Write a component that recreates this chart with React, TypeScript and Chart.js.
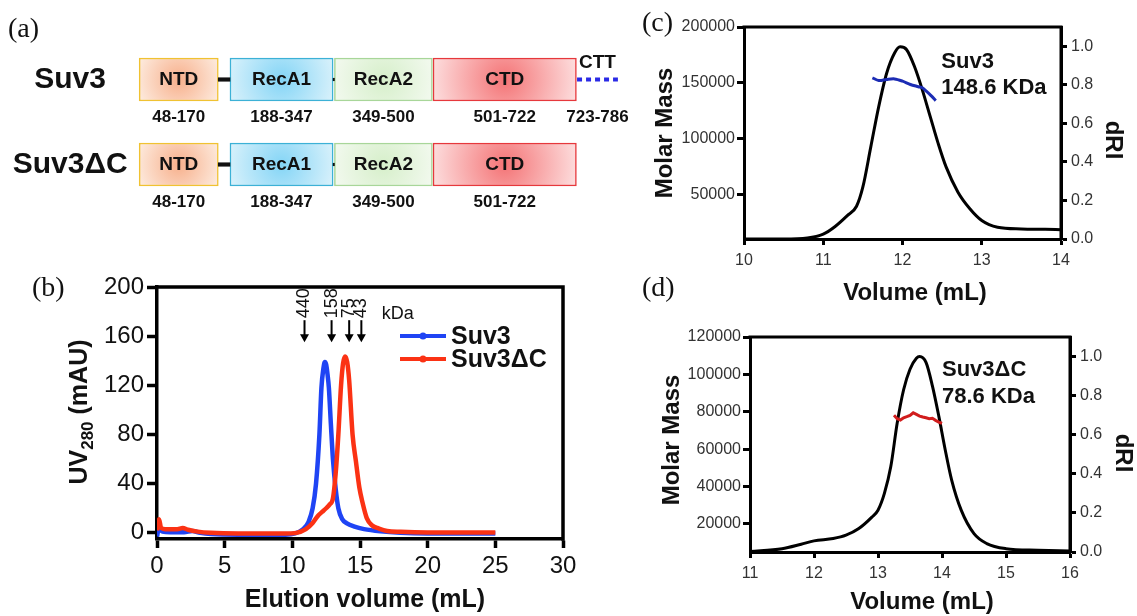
import React, { useEffect, useRef } from 'react';
import { Chart, registerables } from 'chart.js';

Chart.register(...registerables);

const SANS = "'Liberation Sans', Arial, Helvetica, sans-serif";
const SERIF = "'Liberation Serif', 'Times New Roman', serif";
Chart.defaults.font.family = SANS;

// ---------------- (a) domain architecture ----------------
const constructs = ['Suv3', 'Suv3ΔC'];
const domainNames = ['NTD', 'RecA1', 'RecA2', 'CTD'];
const domainStarts = [48, 188, 349, 501];
const domainEnds = [170, 347, 500, 722];
const cttName = 'CTT';
const cttRange = [723, 786];

// ---------------- (b) size-exclusion chromatography ----------------
const suv3Volume = [0, 0.15, 0.4, 1, 2, 2.6, 3.2, 4, 6, 8, 9.5, 10.2, 10.8, 11.2, 11.5, 11.75, 12.0, 12.15, 12.3, 12.4, 12.5, 12.6, 12.7, 12.85, 13.0, 13.2, 13.4, 13.7, 14.0, 14.6, 15.3, 16.5, 18, 20, 25];
const suv3Uv = [-3, 4, 1, 0.5, 0.5, 1.5, 0, -1, -1.5, -1.5, -1.5, -0.5, 3, 9, 20, 40, 80, 118, 134, 139, 137, 129, 118, 88, 60, 36, 20, 11, 8, 5, 3, 1.2, 0, -0.5, -0.5];
const suv3dcVolume = [0, 0.15, 0.3, 0.6, 1.0, 1.5, 1.9, 2.3, 3, 4, 6, 8, 9.5, 10.3, 11, 11.5, 11.9, 12.2, 12.5, 12.75, 13.0, 13.2, 13.4, 13.6, 13.75, 13.9, 14.05, 14.2, 14.45, 14.7, 14.95, 15.2, 15.5, 15.9, 16.4, 17, 18, 20, 25];
const suv3dcUv = [2, 11, 4, 3, 3, 3, 4, 2.5, 1, 0, -0.5, -0.5, -0.5, 0, 3, 8, 14, 17, 20, 23, 28, 48, 80, 120, 138, 143.5, 139, 124, 80, 58, 37, 24, 12, 6, 3.5, 1.5, 0.8, 0.3, 0.3];
const markerVolume = [10.9, 12.9, 14.2, 15.1];
const markerMass = ['440', '158', '75', '43'];
const markerUnit = 'kDa';
const bXTicks = [0, 5, 10, 15, 20, 25, 30];
const bYTicks = [0, 40, 80, 120, 160, 200];

// ---------------- (c) SEC-MALS Suv3 ----------------
const cVolume = [10, 10.5, 10.8, 11.0, 11.15, 11.3, 11.42, 11.5, 11.6, 11.7, 11.8, 11.9, 11.97, 12.05, 12.15, 12.25, 12.35, 12.45, 12.55, 12.7, 12.85, 13.0, 13.2, 13.5, 13.8, 14];
const cDri = [0, 0, 0.005, 0.025, 0.065, 0.12, 0.17, 0.27, 0.478, 0.687, 0.86, 0.965, 0.997, 0.983, 0.896, 0.774, 0.635, 0.496, 0.374, 0.243, 0.157, 0.096, 0.061, 0.052, 0.05, 0.048];
const cMassVolume = [11.62, 11.7, 11.8, 11.9, 12.0, 12.1, 12.2, 12.25, 12.3, 12.36, 12.42];
const cMass = [154500, 152000, 153000, 153500, 151500, 148500, 146500, 145500, 142500, 138500, 134000];
const cXTicks = [10, 11, 12, 13, 14];
const cMassTicks = [50000, 100000, 150000, 200000];
const cLabel = ['Suv3', '148.6 KDa'];

// ---------------- (d) SEC-MALS Suv3ΔC ----------------
const dVolume = [11, 11.5, 11.8, 12.0, 12.3, 12.5, 12.7, 12.9, 13.0, 13.1, 13.2, 13.3, 13.4, 13.5, 13.6, 13.65, 13.75, 13.85, 13.95, 14.05, 14.15, 14.3, 14.5, 14.7, 15.0, 15.5, 16];
const dDri = [0.002, 0.017, 0.04, 0.057, 0.069, 0.086, 0.12, 0.177, 0.214, 0.3, 0.437, 0.66, 0.83, 0.935, 0.991, 1.0, 0.97, 0.85, 0.695, 0.523, 0.369, 0.214, 0.094, 0.043, 0.017, 0.009, 0.005];
const dMassVolume = [13.25, 13.3, 13.35, 13.4, 13.45, 13.5, 13.55, 13.6, 13.65, 13.7, 13.75, 13.8, 13.85, 13.9, 13.95, 14.0];
const dMass = [78100, 76300, 75600, 76800, 77400, 78100, 79500, 78600, 77700, 77200, 76800, 76300, 76500, 75400, 74500, 73800];
const dXTicks = [11, 12, 13, 14, 15, 16];
const dMassTicks = [20000, 40000, 60000, 80000, 100000, 120000];
const dLabel = ['Suv3ΔC', '78.6 KDa'];

const driTicks = [0, 0.2, 0.4, 0.6, 0.8, 1.0];

// ---------------- styles ----------------
const domainBorder = ['#f0c232', '#3cb1d6', '#a8d699', '#e6383c'];
const domainInner = ['#f7b08c', '#84d5f6', '#d6efca', '#f47476'];
const domainOuter = ['#fde8da', '#d8f1fb', '#f2f9ee', '#fde0e0'];
const BLUE = '#1f44f4';
const RED = '#fb3214';

const pts = (xs: number[], ys: number[]) => xs.map((x, i) => ({ x, y: ys[i] }));
const setTicks = (vals: number[]) => (s: any) => { s.ticks = vals.map((v) => ({ value: v })); };
const fixWidth = (w: number) => (s: any) => { s.width = w; s.paddingTop = 0; s.paddingBottom = 0; };
const fixHeight = (h: number) => (s: any) => { s.height = h; s.paddingLeft = 0; s.paddingRight = 0; };

function txt(ctx: CanvasRenderingContext2D, s: string, x: number, y: number, font: string, o: { align?: CanvasTextAlign; baseline?: CanvasTextBaseline; color?: string; rot?: number } = {}) {
  ctx.save();
  ctx.translate(x, y);
  if (o.rot) ctx.rotate(o.rot);
  ctx.font = font;
  ctx.fillStyle = o.color ?? '#000';
  ctx.textAlign = o.align ?? 'center';
  ctx.textBaseline = o.baseline ?? 'middle';
  ctx.fillText(s, 0, 0);
  ctx.restore();
}

const framePlugin = (w: number) => ({
  id: 'frame',
  afterDatasetsDraw(chart: any) {
    const { ctx, chartArea: a } = chart;
    ctx.save();
    ctx.strokeStyle = '#000';
    ctx.lineWidth = w;
    ctx.lineCap = 'square';
    ctx.beginPath();
    ctx.moveTo(a.left, a.top);
    ctx.lineTo(a.right, a.top);
    ctx.lineTo(a.right, a.bottom);
    ctx.stroke();
    ctx.restore();
  },
});

function axis(tickLength: number, width: number) {
  return {
    grid: { drawOnChartArea: false, drawTicks: true, tickLength, tickWidth: width, tickColor: '#000' },
    border: { display: true, color: '#000', width },
  };
}

// ---------------- chart builders ----------------
function makeA(canvas: HTMLCanvasElement) {
  const gradient = (ctx: any, i: number) => {
    const chart = ctx.chart;
    const xs = chart.scales?.x;
    const ys = chart.scales?.y;
    if (ctx.type !== 'data' || !chart.chartArea || !xs || !ys) return domainInner[i];
    const raw = ctx.raw as number[];
    const l = xs.getPixelForValue(raw[0]);
    const r = xs.getPixelForValue(raw[1]);
    const cy = ys.getPixelForValue(ctx.dataIndex);
    const cx = (l + r) / 2;
    const g = chart.ctx.createRadialGradient(cx, cy, 0, cx, cy, (r - l) / 2 * 1.05);
    g.addColorStop(0, domainInner[i]);
    g.addColorStop(1, domainOuter[i]);
    return g;
  };
  const datasets: any[] = [
    {
      label: 'linker1',
      data: constructs.map(() => [domainEnds[0], domainStarts[1]]),
      backgroundColor: '#111',
      barThickness: 3.5,
      grouped: false,
      borderWidth: 0,
    },
    {
      label: 'linker2',
      data: constructs.map(() => [domainEnds[1], domainStarts[2]]),
      backgroundColor: '#111',
      barThickness: 2.5,
      grouped: false,
      borderWidth: 0,
    },
    ...domainNames.map((name, i) => ({
      label: name,
      data: constructs.map(() => [domainStarts[i], domainEnds[i]]),
      backgroundColor: (ctx: any) => gradient(ctx, i),
      borderColor: domainBorder[i],
      borderWidth: 1.5,
      borderSkipped: false,
      barThickness: 43,
      grouped: false,
    })),
    {
      type: 'line',
      label: cttName,
      data: [{ x: cttRange[0], y: constructs[0] }, { x: cttRange[1], y: constructs[0] }],
      borderColor: '#2a2ae6',
      borderWidth: 4,
      borderDash: [5, 4],
      pointRadius: 0,
    },
  ];
  const labels = {
    id: 'domainLabels',
    afterDatasetsDraw(chart: any) {
      const { ctx } = chart;
      const xs = chart.scales.x;
      const ys = chart.scales.y;
      constructs.forEach((name, row) => {
        const cy = ys.getPixelForValue(row);
        txt(ctx, name, xs.getPixelForValue(domainStarts[0]) - 69, cy, `bold 30px ${SANS}`, { align: 'center', color: '#111' });
        domainNames.forEach((d, i) => {
          const cx = xs.getPixelForValue((domainStarts[i] + domainEnds[i]) / 2);
          txt(ctx, d, cx, cy, `bold 19px ${SANS}`, { color: '#111' });
          txt(ctx, `${domainStarts[i]}-${domainEnds[i]}`, cx, cy + 38, `bold 17px ${SANS}`, { color: '#111' });
        });
      });
      const cy0 = ys.getPixelForValue(0);
      const cxc = xs.getPixelForValue((cttRange[0] + cttRange[1]) / 2);
      txt(ctx, cttName, cxc, cy0 - 17, `bold 19px ${SANS}`, { color: '#111' });
      txt(ctx, `${cttRange[0]}-${cttRange[1]}`, cxc, cy0 + 38, `bold 17px ${SANS}`, { color: '#111' });
    },
  };
  return new Chart(canvas, {
    type: 'bar',
    data: { labels: constructs, datasets },
    options: {
      indexAxis: 'y',
      animation: false,
      responsive: false,
      devicePixelRatio: 1,
      layout: { padding: { left: 108, right: 13, top: 37, bottom: 23 } },
      plugins: { legend: { display: false }, tooltip: { enabled: false } },
      scales: {
        x: { type: 'linear', min: 0, max: 800, display: false },
        y: { type: 'category', display: false },
      },
    },
    plugins: [labels],
  } as any);
}

function makeB(canvas: HTMLCanvasElement) {
  const tickFont = { family: SANS, size: 24 };
  const annot = {
    id: 'bAnnot',
    afterDatasetsDraw(chart: any) {
      const { ctx } = chart;
      const xs = chart.scales.x;
      const ys = chart.scales.y;
      // size markers
      markerVolume.forEach((v, i) => {
        const x = xs.getPixelForValue(v);
        const yTop = ys.getPixelForValue(173);
        const yTip = ys.getPixelForValue(155);
        ctx.save();
        ctx.strokeStyle = '#000';
        ctx.fillStyle = '#000';
        ctx.lineWidth = 2;
        ctx.beginPath();
        ctx.moveTo(x, yTop);
        ctx.lineTo(x, yTip - 6);
        ctx.stroke();
        ctx.beginPath();
        ctx.moveTo(x - 4.5, yTip - 8);
        ctx.lineTo(x + 4.5, yTip - 8);
        ctx.lineTo(x, yTip);
        ctx.closePath();
        ctx.fill();
        ctx.restore();
        txt(ctx, markerMass[i], x, yTop - 2, `18px ${SANS}`, { align: 'left', rot: -Math.PI / 2, color: '#111' });
      });
      txt(ctx, markerUnit, xs.getPixelForValue(16.6), ys.getPixelForValue(178), `18px ${SANS}`, { align: 'left', color: '#111' });
      // legend
      chart.data.datasets.forEach((ds: any, i: number) => {
        const y = 86 + i * 23;
        ctx.save();
        ctx.strokeStyle = ds.borderColor;
        ctx.fillStyle = ds.borderColor;
        ctx.lineWidth = 4;
        ctx.beginPath();
        ctx.moveTo(400, y);
        ctx.lineTo(446, y);
        ctx.stroke();
        ctx.beginPath();
        ctx.arc(423, y, 3.5, 0, Math.PI * 2);
        ctx.fill();
        ctx.restore();
        txt(ctx, ds.label, 451, y + 1, `bold 25px ${SANS}`, { align: 'left', color: '#111' });
      });
      // axis titles
      txt(ctx, 'Elution volume (mL)', 365, 350, `bold 25px ${SANS}`, { color: '#111' });
      ctx.save();
      ctx.translate(80, 162);
      ctx.rotate(-Math.PI / 2);
      ctx.fillStyle = '#111';
      ctx.textBaseline = 'middle';
      ctx.textAlign = 'left';
      const big = `bold 25px ${SANS}`;
      const small = `bold 17px ${SANS}`;
      ctx.font = big;
      const w1 = ctx.measureText('UV').width;
      const w3 = ctx.measureText(' (mAU)').width;
      ctx.font = small;
      const w2 = ctx.measureText('280').width;
      let x0 = -(w1 + w2 + w3) / 2;
      ctx.font = big;
      ctx.fillText('UV', x0, 0);
      x0 += w1;
      ctx.font = small;
      ctx.fillText('280', x0, 8);
      x0 += w2;
      ctx.font = big;
      ctx.fillText(' (mAU)', x0, 0);
      ctx.restore();
    },
  };
  return new Chart(canvas, {
    type: 'line',
    data: {
      datasets: [
        { label: 'Suv3', data: pts(suv3Volume, suv3Uv), borderColor: BLUE, backgroundColor: BLUE, borderWidth: 4.5, pointRadius: 0, cubicInterpolationMode: 'monotone', order: 2 },
        { label: 'Suv3ΔC', data: pts(suv3dcVolume, suv3dcUv), borderColor: RED, backgroundColor: RED, borderWidth: 4.5, pointRadius: 0, cubicInterpolationMode: 'monotone', order: 1 },
      ],
    },
    options: {
      animation: false,
      responsive: false,
      devicePixelRatio: 1,
      layout: { padding: { left: 0, right: 37, top: 37, bottom: 0 } },
      plugins: { legend: { display: false }, tooltip: { enabled: false } },
      scales: {
        x: {
          type: 'linear', min: 0, max: 30,
          afterBuildTicks: setTicks(bXTicks), afterFit: fixHeight(77),
          ticks: { font: tickFont, color: '#111', padding: 4, autoSkip: false, maxRotation: 0 },
          ...axis(9, 3.5),
        },
        y: {
          type: 'linear', min: -5, max: 200,
          afterBuildTicks: setTicks(bYTicks), afterFit: fixWidth(157),
          ticks: { font: tickFont, color: '#111', padding: 3, autoSkip: false },
          ...axis(10, 3.5),
        },
      },
    },
    plugins: [framePlugin(3.5), annot],
  } as any);
}

function makeMals(canvas: HTMLCanvasElement, cfg: {
  vol: number[]; dri: number[]; mVol: number[]; mass: number[]; xMin: number; xMax: number; xTicks: number[];
  massMin: number; massMax: number; massTicks: number[]; massColor: string; massTension: number;
  leftW: number; rightW: number; bottomH: number; top: number; label: string[]; labelX: number; labelY: number[];
  molarPos: [number, number]; driPos: [number, number]; volPos: [number, number];
}) {
  const tickFont = { family: SANS, size: 16 };
  const annot = {
    id: 'malsAnnot',
    afterDatasetsDraw(chart: any) {
      const { ctx } = chart;
      const xs = chart.scales.x;
      const ys = chart.scales.y;
      cfg.label.forEach((s, i) => {
        txt(ctx, s, xs.getPixelForValue(cfg.labelX), ys.getPixelForValue(cfg.labelY[i]), `bold 22px ${SANS}`, { align: 'left', color: '#111' });
      });
      txt(ctx, 'Molar Mass', cfg.molarPos[0], cfg.molarPos[1], `bold 24px ${SANS}`, { rot: -Math.PI / 2, color: '#111' });
      txt(ctx, 'dRI', cfg.driPos[0], cfg.driPos[1], `bold 24px ${SANS}`, { rot: Math.PI / 2, color: '#111' });
      txt(ctx, 'Volume (mL)', cfg.volPos[0], cfg.volPos[1], `bold 24px ${SANS}`, { color: '#111' });
    },
  };
  return new Chart(canvas, {
    type: 'line',
    data: {
      datasets: [
        { label: 'Molar Mass', data: pts(cfg.mVol, cfg.mass), yAxisID: 'y', borderColor: cfg.massColor, borderWidth: 3, pointRadius: 0, tension: cfg.massTension, order: 1 },
        { label: 'dRI', data: pts(cfg.vol, cfg.dri), yAxisID: 'yR', borderColor: '#000', borderWidth: 3, pointRadius: 0, cubicInterpolationMode: 'monotone', order: 2 },
      ],
    },
    options: {
      animation: false,
      responsive: false,
      devicePixelRatio: 1,
      layout: { padding: { left: 0, right: 0, top: cfg.top, bottom: 0 } },
      plugins: { legend: { display: false }, tooltip: { enabled: false } },
      scales: {
        x: {
          type: 'linear', min: cfg.xMin, max: cfg.xMax,
          afterBuildTicks: setTicks(cfg.xTicks), afterFit: fixHeight(cfg.bottomH),
          ticks: { font: tickFont, color: '#333', padding: 6, autoSkip: false, maxRotation: 0 },
          ...axis(6, 3),
        },
        y: {
          type: 'linear', position: 'left', min: cfg.massMin, max: cfg.massMax,
          afterBuildTicks: setTicks(cfg.massTicks), afterFit: fixWidth(cfg.leftW),
          ticks: { font: tickFont, color: '#333', padding: 2, autoSkip: false, callback: (v: any) => String(v) },
          ...axis(7, 3),
        },
        yR: {
          type: 'linear', position: 'right', min: 0, max: 1.1,
          afterBuildTicks: setTicks(driTicks), afterFit: fixWidth(cfg.rightW),
          ticks: { font: tickFont, color: '#333', padding: 4, autoSkip: false, callback: (v: any) => Number(v).toFixed(1) },
          ...axis(6, 3),
        },
      },
    },
    plugins: [framePlugin(3), annot],
  } as any);
}

const panelLetters = [
  { text: '(a)', left: 8, top: 14 },
  { text: '(b)', left: 32, top: 273 },
  { text: '(c)', left: 642, top: 8 },
  { text: '(d)', left: 642, top: 273 },
];

export default function App() {
  const aRef = useRef<HTMLCanvasElement>(null);
  const bRef = useRef<HTMLCanvasElement>(null);
  const cRef = useRef<HTMLCanvasElement>(null);
  const dRef = useRef<HTMLCanvasElement>(null);

  useEffect(() => {
    const charts: Chart[] = [];
    charts.push(makeA(aRef.current!));
    charts.push(makeB(bRef.current!));
    charts.push(makeMals(cRef.current!, {
      vol: cVolume, dri: cDri, mVol: cMassVolume, mass: cMass, xMin: 10, xMax: 14, xTicks: cXTicks,
      massMin: 10000, massMax: 200000, massTicks: cMassTicks, massColor: '#1c2cb4', massTension: 0.3,
      leftW: 104, rightW: 76, bottomH: 71, top: 27, label: cLabel, labelX: 12.49, labelY: [168900, 145100],
      molarPos: [25, 133], driPos: [473, 140], volPos: [275, 293],
    }));
    charts.push(makeMals(dRef.current!, {
      vol: dVolume, dri: dDri, mVol: dMassVolume, mass: dMass, xMin: 11, xMax: 16, xTicks: dXTicks,
      massMin: 5000, massMax: 120000, massTicks: dMassTicks, massColor: '#d11d1d', massTension: 0,
      leftW: 110, rightW: 67, bottomH: 64, top: 27, label: dLabel, labelX: 14.0, labelY: [102350, 88070],
      molarPos: [32, 130], driPos: [483, 143], volPos: [282, 292],
    }));
    return () => charts.forEach((c) => c.destroy());
  }, []);

  const abs = (left: number, top: number, w: number, h: number): React.CSSProperties => ({ position: 'absolute', left, top, width: w, height: h });

  return (
    <div style={{ position: 'absolute', left: 0, top: 0, width: 1137, height: 616, background: '#fff', overflow: 'hidden' }}>
      <canvas ref={aRef} width={640} height={230} style={abs(0, 0, 640, 230)} />
      <canvas ref={bRef} width={600} height={366} style={abs(0, 250, 600, 366)} />
      <canvas ref={cRef} width={497} height={310} style={abs(640, 0, 497, 310)} />
      <canvas ref={dRef} width={497} height={306} style={abs(640, 310, 497, 306)} />
      {panelLetters.map((p) => (
        <div key={p.text} style={{ position: 'absolute', left: p.left, top: p.top, fontFamily: SERIF, fontSize: 28, lineHeight: '28px', color: '#111' }}>
          {p.text}
        </div>
      ))}
    </div>
  );
}
